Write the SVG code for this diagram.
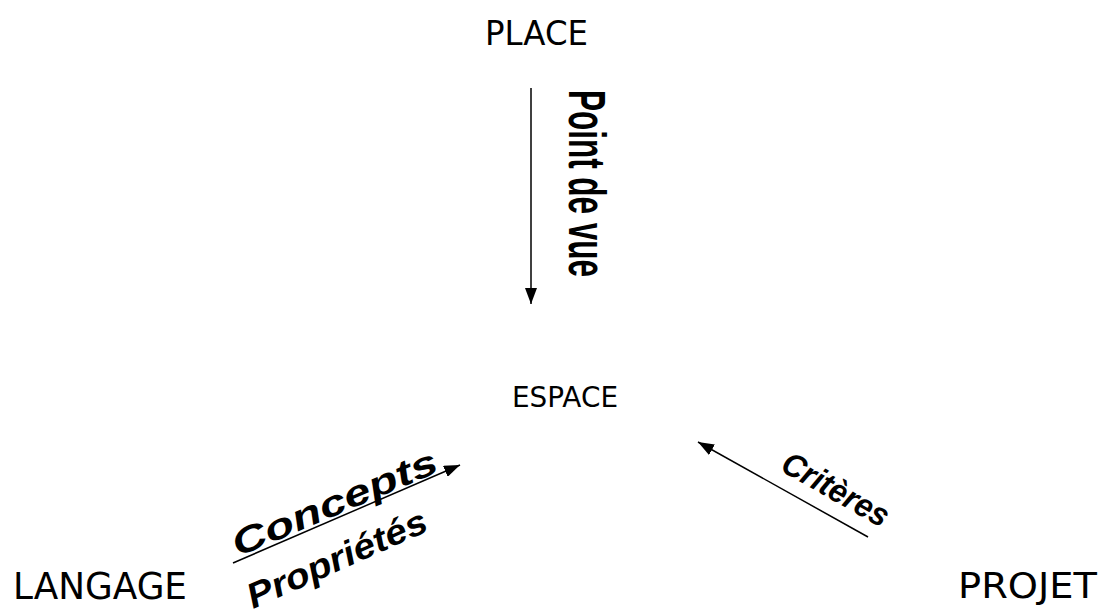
<svg xmlns="http://www.w3.org/2000/svg" width="1105" height="612" viewBox="0 0 1105 612">
  <style>
    .node { font-family: "DejaVu Sans", "Noto Sans", sans-serif; fill: #000; }
    .lbl { font-family: "Liberation Sans", Arial, sans-serif; font-weight: bold; fill: #000; }
    .edge { stroke: #000; stroke-width: 1.5; fill: none; marker-end: url(#arr); }
  </style>
  <defs>
    <marker id="arr" markerUnits="userSpaceOnUse" markerWidth="16" markerHeight="12" viewBox="0 0 16 12" refX="16" refY="6" orient="auto">
      <path d="M0,0 L16,6 L0,12 Z" fill="#000"/>
    </marker>
  </defs>
  <rect width="1105" height="612" fill="#fff"/>
  <g id="place"><text class="node" x="485" y="45" font-size="34" textLength="103" lengthAdjust="spacingAndGlyphs">PLACE</text></g>
  <g id="espace"><text class="node" x="512" y="407" font-size="29" textLength="106" lengthAdjust="spacingAndGlyphs">ESPACE</text></g>
  <g id="langage"><text class="node" x="13" y="599" font-size="37" textLength="174" lengthAdjust="spacingAndGlyphs">LANGAGE</text></g>
  <g id="projet"><text class="node" x="958" y="598" font-size="36" textLength="139" lengthAdjust="spacingAndGlyphs">PROJET</text></g>
  <g id="connectors">
    <line class="edge" x1="531" y1="88" x2="531" y2="304"/>
    <text class="lbl" font-size="51" transform="translate(569,90) rotate(90)" textLength="187" lengthAdjust="spacingAndGlyphs">Point de vue</text>
    <line class="edge" x1="868" y1="537" x2="698" y2="442"/>
    <text class="lbl" font-size="33" font-style="italic" transform="translate(779,470) rotate(29.5)" textLength="118" lengthAdjust="spacingAndGlyphs">Critères</text>
    <line class="edge" x1="233" y1="563" x2="460" y2="465"/>
    <text class="lbl" font-size="36" font-style="italic" transform="translate(238,557) rotate(-23)" textLength="220" lengthAdjust="spacingAndGlyphs">Concepts</text>
    <text class="lbl" font-size="35" font-style="italic" transform="translate(253,609) rotate(-24)" textLength="194" lengthAdjust="spacingAndGlyphs">Propriétés</text>
  </g>
</svg>
